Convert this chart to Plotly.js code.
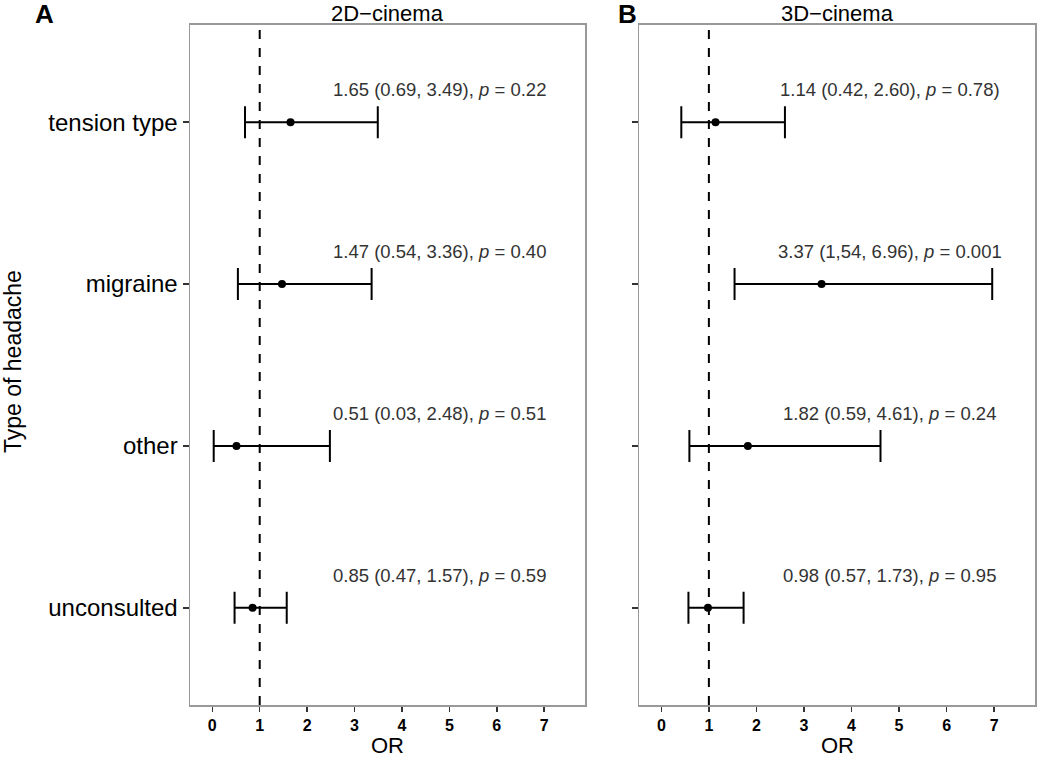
<!DOCTYPE html>
<html>
<head>
<meta charset="utf-8">
<script src="https://cdn.plot.ly/plotly-3.0.1.min.js"></script>
<style>html,body{margin:0;padding:0;background:#fff;}#chart{width:1038px;height:762px;}</style>
</head>
<body>
<div id="chart"></div>
<script>
// Data
const categories = ["tension type", "migraine", "other", "unconsulted"];
const catPos = [4, 3, 2, 1];
const or2D = [1.65, 1.47, 0.51, 0.85];
const lo2D = [0.69, 0.54, 0.03, 0.47];
const hi2D = [3.49, 3.36, 2.48, 1.57];
const lab2D = ["1.65 (0.69, 3.49), <i>p</i> = 0.22", "1.47 (0.54, 3.36), <i>p</i> = 0.40",
               "0.51 (0.03, 2.48), <i>p</i> = 0.51", "0.85 (0.47, 1.57), <i>p</i> = 0.59"];
const or3D = [1.14, 3.37, 1.82, 0.98];
const lo3D = [0.42, 1.54, 0.59, 0.57];
const hi3D = [2.60, 6.96, 4.61, 1.73];
const lab3D = ["1.14 (0.42, 2.60), <i>p</i> = 0.78)", "3.37 (1,54, 6.96), <i>p</i> = 0.001",
               "1.82 (0.59, 4.61), <i>p</i> = 0.24", "0.98 (0.57, 1.73), <i>p</i> = 0.95"];
const xTicks = [0, 1, 2, 3, 4, 5, 6, 7];
const labelX = 4.8;

const FONT = "Liberation Sans, Arial, sans-serif";

function trace(orv, lo, hi, xa, ya) {
  return {
    type: "scatter", mode: "markers",
    x: orv, y: catPos, xaxis: xa, yaxis: ya,
    marker: {color: "#000", size: 8},
    error_x: {type: "data", symmetric: false,
      array: hi.map((h, i) => h - orv[i]),
      arrayminus: lo.map((l, i) => orv[i] - l),
      color: "#000", thickness: 2, width: 16},
    hoverinfo: "skip", showlegend: false, cliponaxis: false
  };
}

const data = [trace(or2D, lo2D, hi2D, "x", "y"), trace(or3D, lo3D, hi3D, "x2", "y2")];

function xaxis(domain, anchor) {
  return {domain: domain, anchor: anchor, range: [-0.47, 7.86],
    tickvals: xTicks, ticktext: xTicks.map(String),
    showgrid: false, zeroline: false,
    showline: true, mirror: true, linecolor: "#999", linewidth: 1.5,
    ticks: "outside", ticklen: 5, tickwidth: 1.5, tickcolor: "#333",
    tickfont: {family: FONT, size: 16, color: "#000", weight: "bold"}};
}
function yaxis(anchor, labels) {
  return {domain: [0.0748, 0.9672], anchor: anchor, range: [0.4, 4.6],
    tickvals: catPos, ticktext: categories, showticklabels: labels,
    showgrid: false, zeroline: false,
    showline: true, mirror: true, linecolor: "#999", linewidth: 1.5,
    ticks: "outside", ticklen: 6, tickwidth: 1.5, tickcolor: "#333",
    tickfont: {family: FONT, size: 24, color: "#000"}};
}

const annotations = [];
function addLabels(orv, labs, xr) {
  labs.forEach((t, i) => annotations.push({xref: xr, yref: xr === "x" ? "y" : "y2",
    x: labelX, y: catPos[i] + 0.2, text: t, showarrow: false,
    xanchor: "center", yanchor: "middle",
    font: {family: FONT, size: 18.5, color: "#333"}}));
}
addLabels(or2D, lab2D, "x");
addLabels(or3D, lab3D, "x2");

const xd1 = [190/1038, 585/1038], xd2 = [639/1038, 1035/1038];
annotations.push(
  {xref: "paper", yref: "paper", x: (xd1[0]+xd1[1])/2, y: 1 - 13/762, text: "2D\u2212cinema", showarrow: false,
   xanchor: "center", yanchor: "middle", font: {family: FONT, size: 22, color: "#000"}},
  {xref: "paper", yref: "paper", x: (xd2[0]+xd2[1])/2, y: 1 - 13/762, text: "3D\u2212cinema", showarrow: false,
   xanchor: "center", yanchor: "middle", font: {family: FONT, size: 22, color: "#000"}},
  {xref: "paper", yref: "paper", x: (xd1[0]+xd1[1])/2, y: 1 - 745/762, text: "OR", showarrow: false,
   xanchor: "center", yanchor: "middle", font: {family: FONT, size: 22, color: "#000"}},
  {xref: "paper", yref: "paper", x: (xd2[0]+xd2[1])/2, y: 1 - 745/762, text: "OR", showarrow: false,
   xanchor: "center", yanchor: "middle", font: {family: FONT, size: 22, color: "#000"}},
  {xref: "paper", yref: "paper", x: 13/1038, y: 1 - 362/762, text: "Type of headache", showarrow: false,
   textangle: -90, xanchor: "center", yanchor: "middle", font: {family: FONT, size: 23, color: "#000"}},
  {xref: "paper", yref: "paper", x: 44/1038, y: 1 - 14/762, text: "<b>A</b>", showarrow: false,
   xanchor: "center", yanchor: "middle", font: {family: FONT, size: 26, color: "#000"}},
  {xref: "paper", yref: "paper", x: 627/1038, y: 1 - 14/762, text: "<b>B</b>", showarrow: false,
   xanchor: "center", yanchor: "middle", font: {family: FONT, size: 26, color: "#000"}}
);

const shapes = [
  {type: "line", xref: "x", yref: "y domain", x0: 1, x1: 1, y0: 0, y1: 1, line: {color: "#000", width: 2, dash: "dash"}},
  {type: "line", xref: "x2", yref: "y2 domain", x0: 1, x1: 1, y0: 0, y1: 1, line: {color: "#000", width: 2, dash: "dash"}}
];

const layout = {
  width: 1038, height: 762,
  margin: {l: 0, r: 0, t: 0, b: 0},
  paper_bgcolor: "#fff", plot_bgcolor: "#fff",
  xaxis: xaxis(xd1, "y"), yaxis: yaxis("x", true),
  xaxis2: xaxis(xd2, "y2"), yaxis2: yaxis("x2", false),
  annotations: annotations, shapes: shapes,
  font: {family: FONT}
};

Plotly.newPlot("chart", data, layout, {displayModeBar: false, staticPlot: true});
</script>
</body>
</html>
